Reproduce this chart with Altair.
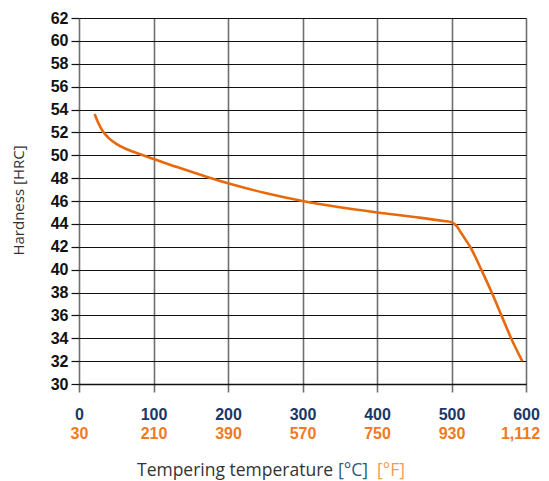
import altair as alt
import pandas as pd

# Curve values
temp_c = [21, 24, 28, 32, 40, 50, 65, 86, 100, 130, 172, 200, 250, 300, 350, 400, 450, 490, 500,
          507, 513, 519, 525, 540, 554, 567, 580, 595]
hrc = [53.6, 53.1, 52.55, 52.1, 51.5, 51.0, 50.5, 50.0, 49.67, 49.0, 48.1, 47.55, 46.7, 46.0, 45.45,
       45.0, 44.6, 44.25, 44.15, 43.8, 43.2, 42.6, 42.0, 40.0, 38.0, 36.0, 34.0, 32.0]

c_ticks = [0, 100, 200, 300, 400, 500, 600]
f_labels = ["30", "210", "390", "570", "750", "930", "1,112"]
y_ticks = list(range(30, 63, 2))

df = pd.DataFrame({"t": temp_c, "h": hrc})

ORANGE = "#e8690c"
NAVY = "#1b3668"
LORANGE = "#f07a1e"

xs = alt.Scale(domain=[0, 600], nice=False, zero=False)
ys = alt.Scale(domain=[30, 62], nice=False, zero=False)

f_expr = "[" + ",".join("'%s'" % s for s in f_labels) + "][round(datum.value/100)]"

line = alt.Chart(df).mark_line(color=ORANGE, strokeWidth=2.6, interpolate="monotone").encode(
    x=alt.X("t:Q", scale=xs, axis=alt.Axis(
        orient="bottom",
        values=c_ticks, grid=True, gridColor="#6f6f6f", gridWidth=1.6,
        ticks=True, tickSize=8, tickColor="#6f6f6f", tickWidth=1.6,
        domain=True, domainColor="#111111", domainWidth=1.4,
        labelFont="Liberation Sans", labelFontWeight="bold", labelFontSize=16,
        labelColor=NAVY, labelPadding=14, labelFlush=False, labelOverlap=False,
        title=None)),
    y=alt.Y("h:Q", scale=ys, axis=alt.Axis(
        values=y_ticks, grid=True, gridColor="#111111", gridWidth=1.2,
        ticks=True, tickSize=8, tickColor="#111111", tickWidth=1.2,
        domain=False,
        labelFont="Liberation Sans", labelFontWeight="bold", labelFontSize=16,
        labelColor="#111111", labelPadding=3,
        title="Hardness [HRC]", titleFont="Open Sans", titleFontWeight="normal",
        titleFontSize=15, titleColor="#333333", titleX=-61, titleY=182,
        titleAngle=-90, titleAlign="center", titleBaseline="middle")),
)

ghost = alt.Chart(df).mark_line(opacity=0).encode(
    x=alt.X("t:Q", scale=xs, axis=alt.Axis(
        orient="bottom",
        values=c_ticks, grid=False, ticks=False, domain=False,
        labelExpr=f_expr,
        labelOffset={"condition": {"test": "datum.value == 600", "value": -6}, "value": 0},
        labelFont="Liberation Sans", labelFontWeight="bold", labelFontSize=16,
        labelColor=LORANGE, labelPadding=41, labelFlush=False, labelOverlap=False,
        title=None)),
    y=alt.Y("h:Q", scale=ys, axis=None),
)

title_y = 458
t1 = alt.Chart(df.head(1)).mark_text(
    text="Tempering temperature", font="Open Sans", fontSize=17.5, color="#333333",
    align="left", baseline="alphabetic").encode(x=alt.value(58), y=alt.value(title_y))
t2 = alt.Chart(df.head(1)).mark_text(
    text="[°C]", font="Open Sans", fontSize=17.5, color="#2a5a7c",
    align="left", baseline="alphabetic").encode(x=alt.value(259), y=alt.value(title_y))
t3 = alt.Chart(df.head(1)).mark_text(
    text="[°F]", font="Open Sans", fontSize=17.5, color="#f59a52",
    align="left", baseline="alphabetic").encode(x=alt.value(298), y=alt.value(title_y))

chart = alt.layer(line, ghost, t1, t2, t3).resolve_axis(
    x="independent", y="independent"
).properties(
    width=447, height=366,
    autosize=alt.AutoSizeParams(type="none"),
    padding={"left": 71, "top": 10, "right": 15, "bottom": 97},
).configure_view(stroke=None).configure(background="white")

chart.save("out.html", embed_options={"renderer": "svg", "actions": False})
